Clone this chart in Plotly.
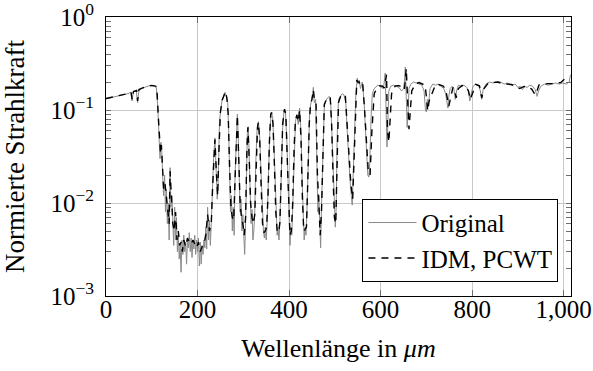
import plotly.graph_objects as go

# Wavelength samples (µm) and normalised radiant intensity of the measured spectrum
wl_orig = [0, 8, 16, 24, 32, 40, 48, 54, 57, 60, 66, 69, 72, 80, 88, 95, 100, 106, 110,
           113, 116, 118, 120, 122, 124, 126, 128, 130, 132, 134, 136, 138, 140, 142, 144,
           146, 148, 150, 152, 154, 156, 158, 160, 162, 164, 166, 168, 170, 172, 174, 176,
           178, 180, 182, 184, 186, 188, 190, 192, 194, 196, 198, 200, 202, 204, 206, 208,
           210, 212, 214, 216, 218, 220, 222, 224, 226, 228, 230, 232, 235, 238, 241, 243,
           245, 248, 251, 254, 257, 260, 263, 266, 268, 270, 272, 274, 276, 278, 280, 282,
           285, 287, 289, 291, 293, 295, 297, 299, 301, 303, 305, 307, 309, 311, 313, 315,
           317, 319, 321, 323, 325, 327, 330, 333, 336, 339, 342, 344, 346, 348, 350, 352,
           355, 358, 361, 364, 367, 370, 372, 374, 376, 378, 380, 383, 386, 389, 392, 395,
           398, 400, 402, 404, 406, 408, 411, 414, 417, 420, 423, 426, 429, 431, 433, 435,
           437, 439, 442, 445, 448, 451, 453, 455, 458, 461, 463, 465, 467, 469, 471, 474,
           477, 480, 484, 488, 491, 494, 497, 499, 501, 503, 505, 508, 512, 516, 520, 524,
           527, 530, 533, 536, 538, 540, 543, 546, 549, 551, 553, 556, 560, 564, 567, 570,
           572, 574, 576, 579, 582, 586, 590, 594, 598, 602, 606, 608, 610, 612, 614, 616,
           618, 622, 628, 634, 640, 646, 650, 652, 654, 656, 658, 660, 662, 666, 672, 678,
           684, 690, 695, 698, 700, 702, 705, 708, 714, 720, 726, 732, 738, 742, 745, 747,
           749, 752, 756, 760, 763, 766, 770, 776, 782, 788, 792, 795, 798, 802, 808, 814,
           818, 821, 824, 830, 838, 846, 854, 862, 870, 878, 886, 894, 900, 905, 910, 914,
           920, 926, 932, 938, 942, 945, 950, 958, 966, 974, 982, 990, 998, 1006, 1012, 1015]

val_orig = [0.132, 0.135, 0.137, 0.139, 0.142, 0.146, 0.150, 0.155, 0.125, 0.158, 0.162, 0.120,
            0.165, 0.172, 0.178, 0.183, 0.182, 0.180, 0.175,
            0.110, 0.050, 0.030, 0.045, 0.035, 0.018, 0.012, 0.020, 0.008, 0.014, 0.006,
            0.010, 0.004, 0.024, 0.009, 0.012, 0.005, 0.0035, 0.009, 0.004, 0.007, 0.003,
            0.0045, 0.0025, 0.0035, 0.0018, 0.004, 0.0028, 0.0045, 0.003, 0.0038, 0.0022,
            0.004, 0.0033, 0.0048, 0.003, 0.0042, 0.0026, 0.004, 0.0032, 0.0045, 0.0028,
            0.004, 0.003, 0.0042, 0.0021, 0.0038, 0.0022, 0.0035, 0.0028, 0.004, 0.0033,
            0.0055, 0.0032, 0.009, 0.004, 0.0065, 0.0035, 0.006, 0.012, 0.030, 0.050,
            0.020, 0.011, 0.016, 0.075, 0.105, 0.130, 0.140, 0.155, 0.140, 0.120, 0.060,
            0.020, 0.008, 0.012, 0.005, 0.009, 0.0045, 0.020, 0.060, 0.090, 0.050, 0.020,
            0.008, 0.011, 0.005, 0.0075, 0.004, 0.0028, 0.006, 0.030, 0.060, 0.066, 0.035,
            0.014, 0.006, 0.0085, 0.004, 0.005, 0.008, 0.025, 0.060, 0.075, 0.050, 0.020,
            0.008, 0.005, 0.0042, 0.0055, 0.004, 0.006, 0.020, 0.060, 0.095, 0.085, 0.040,
            0.012, 0.006, 0.0045, 0.0052, 0.004, 0.0065, 0.020, 0.065, 0.100, 0.095, 0.050,
            0.015, 0.006, 0.0035, 0.0055, 0.0045, 0.009, 0.035, 0.075, 0.090, 0.070, 0.105,
            0.060, 0.015, 0.006, 0.004, 0.0055, 0.0045, 0.008, 0.040, 0.100, 0.120, 0.140,
            0.175, 0.120, 0.130, 0.030, 0.008, 0.012, 0.005, 0.0033, 0.010, 0.050, 0.110,
            0.125, 0.135, 0.140, 0.120, 0.050, 0.015, 0.007, 0.0055, 0.009, 0.050, 0.130,
            0.140, 0.150, 0.145, 0.120, 0.060, 0.030, 0.018, 0.012, 0.0095, 0.020, 0.080,
            0.150, 0.220, 0.190, 0.210, 0.170, 0.200, 0.120, 0.060, 0.030, 0.020, 0.019,
            0.025, 0.080, 0.150, 0.170, 0.180, 0.185, 0.180, 0.175, 0.170, 0.200, 0.250,
            0.100, 0.040, 0.080, 0.160, 0.180, 0.185, 0.180, 0.175, 0.160, 0.170, 0.200,
            0.290, 0.140, 0.065, 0.090, 0.170, 0.190, 0.200, 0.195, 0.190, 0.185, 0.160,
            0.100, 0.095, 0.130, 0.120, 0.170, 0.190, 0.185, 0.190, 0.180, 0.170, 0.150,
            0.110, 0.105, 0.140, 0.170, 0.180, 0.170, 0.130, 0.160, 0.185, 0.180, 0.185,
            0.175, 0.160, 0.125, 0.150, 0.180, 0.190, 0.185, 0.160, 0.130, 0.165, 0.190,
            0.200, 0.195, 0.200, 0.200, 0.190, 0.195, 0.185, 0.190, 0.175, 0.180, 0.165,
            0.180, 0.175, 0.185, 0.180, 0.165, 0.140, 0.160, 0.180, 0.190, 0.185, 0.190,
            0.195, 0.190, 0.195, 0.190, 0.200, 0.240]

# Reconstruction with IDM and PCWT
wl_rec = [0, 10, 20, 30, 40, 50, 55, 57, 60, 67, 69, 72, 80, 90, 100, 108, 111,
          114, 117, 119, 121, 123, 126, 129, 132, 135, 138, 140, 143, 146, 149, 152,
          155, 158, 161, 164, 167, 170, 174, 178, 182, 186, 190, 194, 198, 202, 206,
          210, 214, 218, 222, 226, 230, 233, 236, 238, 241, 244, 247, 250, 254, 258,
          261, 264, 267, 270, 273, 276, 279, 282, 285, 287, 290, 293, 296, 299, 302,
          305, 308, 310, 313, 316, 319, 322, 325, 328, 331, 333, 336, 339, 342, 345,
          348, 351, 354, 357, 360, 362, 365, 368, 371, 374, 377, 380, 383, 386, 390,
          393, 396, 399, 402, 405, 408, 411, 414, 417, 420, 423, 426, 429, 432, 435,
          438, 441, 444, 447, 450, 453, 456, 459, 462, 465, 468, 471, 474, 477, 481,
          486, 490, 493, 496, 499, 502, 505, 508, 513, 518, 523, 527, 531, 535, 539,
          542, 545, 548, 550, 553, 557, 561, 565, 569, 573, 577, 581, 586, 592, 598,
          604, 608, 610, 613, 615, 618, 624, 632, 640, 648, 652, 654, 656, 659, 662,
          668, 676, 684, 692, 697, 700, 703, 706, 712, 720, 728, 736, 742, 746, 749,
          753, 758, 762, 765, 770, 778, 786, 792, 796, 800, 808, 816, 821, 826, 836,
          846, 856, 866, 876, 886, 896, 904, 912, 920, 930, 938, 942, 946, 954, 964,
          974, 984, 994, 1004, 1012, 1015]

val_rec = [0.133, 0.136, 0.139, 0.142, 0.146, 0.151, 0.155, 0.13, 0.158, 0.162, 0.125,
           0.166, 0.173, 0.18, 0.184, 0.181, 0.176,
           0.09, 0.045, 0.035, 0.042, 0.028, 0.014, 0.016, 0.011, 0.008, 0.006, 0.022,
           0.01, 0.006, 0.005, 0.008, 0.004, 0.005, 0.0035, 0.0038, 0.003, 0.004, 0.0034,
           0.0042, 0.0038, 0.0036, 0.004, 0.0037, 0.0033, 0.0038, 0.003, 0.0034, 0.0036,
           0.0045, 0.0075, 0.005, 0.006, 0.015, 0.035, 0.048, 0.022, 0.012, 0.04, 0.095,
           0.128, 0.142, 0.158, 0.135, 0.09, 0.025, 0.009, 0.007, 0.0065, 0.018, 0.06,
           0.088, 0.03, 0.01, 0.007, 0.006, 0.0045, 0.007, 0.04, 0.065, 0.03, 0.01, 0.007,
           0.006, 0.0075, 0.03, 0.065, 0.074, 0.045, 0.015, 0.006, 0.0048, 0.005, 0.0055,
           0.012, 0.045, 0.09, 0.094, 0.07, 0.025, 0.008, 0.005, 0.0048, 0.0062, 0.022,
           0.07, 0.102, 0.09, 0.03, 0.009, 0.0045, 0.005, 0.01, 0.04, 0.078, 0.088, 0.075,
           0.1, 0.05, 0.012, 0.005, 0.0052, 0.0055, 0.018, 0.07, 0.115, 0.13, 0.165,
           0.122, 0.115, 0.02, 0.01, 0.0045, 0.0085, 0.05, 0.115, 0.128, 0.138, 0.135,
           0.07, 0.02, 0.007, 0.006, 0.03, 0.12, 0.142, 0.148, 0.14, 0.07, 0.03, 0.016,
           0.011, 0.035, 0.12, 0.21, 0.2, 0.2, 0.18, 0.19, 0.1, 0.04, 0.022, 0.02, 0.06,
           0.15, 0.172, 0.182, 0.18, 0.172, 0.2, 0.24, 0.06, 0.045, 0.15, 0.182, 0.183,
           0.176, 0.165, 0.2, 0.28, 0.13, 0.062, 0.16, 0.192, 0.197, 0.19, 0.185, 0.14,
           0.098, 0.125, 0.15, 0.188, 0.187, 0.182, 0.168, 0.13, 0.11, 0.135, 0.175,
           0.165, 0.135, 0.17, 0.183, 0.18, 0.16, 0.13, 0.15, 0.188, 0.182, 0.135, 0.17,
           0.197, 0.198, 0.2, 0.192, 0.19, 0.188, 0.178, 0.17, 0.178, 0.18, 0.168, 0.145,
           0.162, 0.186, 0.188, 0.192, 0.192, 0.193, 0.198, 0.22]

x_ticks = [0, 200, 400, 600, 800, 1000]
x_tick_text = ["0", "200", "400", "600", "800", "1,000"]
y_ticks = [1e-3, 1e-2, 1e-1, 1e0]
y_tick_text = ["10<sup>\u22123</sup>", "10<sup>\u22122</sup>", "10<sup>\u22121</sup>", "10<sup>0</sup>"]
# minor ticks at 2..9 within every decade
y_minor = [m * d for d in (1e-3, 1e-2, 1e-1) for m in range(2, 10)]

FONT = "Liberation Serif"
SIZE = 25
Y_RANGE = [-3, 0]
TICK_GREY = "#6e6e6e"

fig = go.Figure()
fig.add_trace(go.Scatter(
    x=wl_orig, y=val_orig, mode="lines", name="Original",
    line=dict(color="#8a8a8a", width=1),
))
# the reconstruction lives on the overlaid twin axis (same log scale), drawn on top
fig.add_trace(go.Scatter(
    x=wl_rec, y=val_rec, mode="lines", name="IDM, PCWT", yaxis="y2",
    line=dict(color="black", width=1.4, dash="7px,6px"),
))

fig.update_layout(
    width=593, height=371,
    margin=dict(l=106, r=22, t=17, b=75),
    paper_bgcolor="white", plot_bgcolor="white",
    font=dict(family=FONT, size=SIZE, color="black"),
    showlegend=True,
    legend=dict(
        x=0.973, y=0.051, xanchor="right", yanchor="bottom",
        bgcolor="white", bordercolor="black", borderwidth=1,
        font=dict(family=FONT, size=SIZE),
        tracegroupgap=0, itemwidth=48,
    ),
    # labelled log axis: decade labels plus unlabelled 2..9 ticks
    yaxis=dict(
        type="log", range=Y_RANGE,
        tickvals=y_ticks + y_minor,
        ticktext=y_tick_text + [""] * len(y_minor),
        showgrid=False,
        showline=True, linecolor="black", linewidth=1, mirror="ticks",
        ticks="inside", ticklen=5, tickwidth=1, tickcolor=TICK_GREY,
        zeroline=False, automargin=False, ticklabelstandoff=6,
        ticklabeloverflow="allow",
        title=dict(text="Normierte Strahlkraft", font=dict(family=FONT, size=SIZE + 2), standoff=18),
        tickfont=dict(family=FONT, size=SIZE),
    ),
    # twin log axis on the same scale that carries the decade grid lines
    yaxis2=dict(
        type="log", range=Y_RANGE, overlaying="y", side="left",
        tickvals=y_ticks, showticklabels=False, ticks="",
        showgrid=True, gridcolor="#c8c8c8", gridwidth=1,
        zeroline=False, showline=False, automargin=False,
    ),
)

fig.update_xaxes(
    range=[0, 1016], tickvals=x_ticks, ticktext=x_tick_text,
    showgrid=True, gridcolor="#c8c8c8", gridwidth=1,
    showline=True, linecolor="black", linewidth=1, mirror="ticks",
    ticks="inside", ticklen=6, tickcolor=TICK_GREY,
    zeroline=False, automargin=False, ticklabelstandoff=-9,
    title=dict(text="Wellenlänge in <i>\u03bcm</i>", font=dict(family=FONT, size=SIZE + 1), standoff=16),
    tickfont=dict(family=FONT, size=SIZE),
)

fig.write_html("out.html")
